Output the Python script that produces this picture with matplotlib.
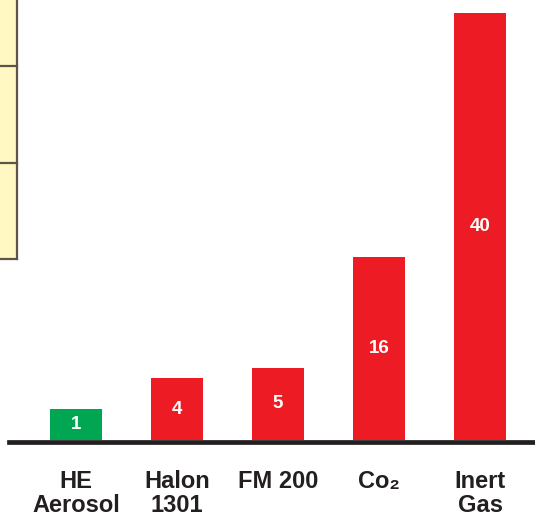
import matplotlib
matplotlib.use("Agg")
import matplotlib.pyplot as plt
from matplotlib.patches import Rectangle

plt.rcParams['font.family'] = ['Liberation Sans', 'DejaVu Sans']

# bar data (heights as drawn, labels as printed on the bars)
categories = ["HE\nAerosol", "Halon\n1301", "FM 200", "Co\u2082", "Inert\nGas"]
heights = [31, 62, 72, 183, 427]
value_labels = ["1", "4", "5", "16", "40"]
bar_colors = ["#00a651", "#ed1c24", "#ed1c24", "#ed1c24", "#ed1c24"]

W, H = 535, 515
fig = plt.figure(figsize=(W / 100, H / 100), dpi=100)
ax = fig.add_axes([0, 0, 1, 1])

# pixel layout: bar centres at 76 + 101*i, baseline at y=440 from the top
ax.set_xlim((0 - 76) / 101, (W - 76) / 101)
ax.set_ylim(-(H - 440), 440)
ax.axis('off')

x = list(range(len(categories)))
ax.bar(x, heights, width=0.505, color=bar_colors, zorder=2)

for xi, h, v in zip(x, heights, value_labels):
    ax.text(xi, h / 2, v, color='white', fontsize=13.5, fontweight='bold',
            ha='center', va='center', zorder=3)

# baseline
ax.axhline(-1.5, xmin=9 / W, xmax=1, color='#231f20', lw=3.4, zorder=4)

# category labels, one line at a time
for xi, cat in zip(x, categories):
    for k, line in enumerate(cat.split("\n")):
        ax.text(xi, 440 - 488 - 23.5 * k, line, color='#231f20', fontsize=17,
                fontweight='bold', ha='center', va='baseline')

# partial yellow table on the left edge
edge = '#5c5647'
ax_px = fig.transFigure
fig.patches.append(Rectangle((-10 / W, (H - 259) / H), 27 / W, 270 / H,
                             transform=ax_px, facecolor='#fff8c2',
                             edgecolor='none', zorder=0))
for yy in [66, 163, 259]:
    fig.lines.append(plt.Line2D([0, 17 / W], [(H - yy) / H] * 2, transform=ax_px,
                                color=edge, lw=1.6))
fig.lines.append(plt.Line2D([17 / W] * 2, [(H - 259) / H, 1], transform=ax_px,
                            color=edge, lw=1.6))

fig.savefig("out.png", dpi=100)
